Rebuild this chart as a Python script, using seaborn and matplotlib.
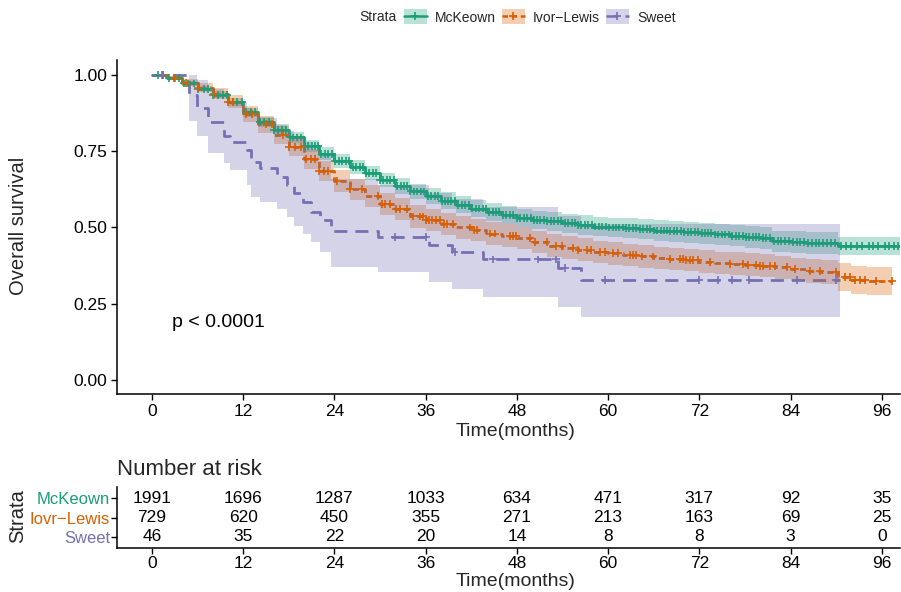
import numpy as np
import pandas as pd
import matplotlib
matplotlib.use("Agg")
import matplotlib.pyplot as plt
from matplotlib.patches import Patch
from matplotlib.lines import Line2D
import seaborn as sns

sns.set_theme(style="white")
plt.rcParams['font.family'] = ['Liberation Sans', 'DejaVu Sans']

# ---------------- data ----------------
strata = ["McKeown", "Ivor\u2212Lewis", "Sweet"]
table_labels = ["McKeown", "Iovr\u2212Lewis", "Sweet"]
colors = ["#1B9E77", "#D95F02", "#7570B3"]

# McKeown
g_time = [0, 2, 4, 6, 8, 10, 12, 14, 16, 18, 20, 22, 24, 26, 28, 30, 32, 34, 36, 38, 40,
          42, 44, 46, 48, 50, 52, 54, 56, 58, 60, 62, 64, 66, 68, 70, 72, 74, 76, 78, 80,
          81.5, 84, 86, 88, 90.2, 92, 94, 96, 98.4]
g_surv = [1.0, 0.99, 0.972, 0.955, 0.935, 0.91, 0.878, 0.846, 0.82, 0.795, 0.767, 0.742,
          0.718, 0.698, 0.678, 0.655, 0.636, 0.618, 0.603, 0.588, 0.574, 0.562, 0.55, 0.54,
          0.532, 0.525, 0.52, 0.514, 0.508, 0.503, 0.5, 0.498, 0.494, 0.49, 0.487, 0.484,
          0.481, 0.477, 0.473, 0.47, 0.466, 0.455, 0.452, 0.45, 0.449, 0.44, 0.44, 0.44,
          0.44, 0.44]
g_lower = [1.0, 0.985, 0.965, 0.946, 0.924, 0.897, 0.863, 0.829, 0.802, 0.776, 0.747, 0.721,
           0.696, 0.675, 0.654, 0.631, 0.611, 0.592, 0.577, 0.561, 0.546, 0.534, 0.521, 0.511,
           0.502, 0.495, 0.489, 0.483, 0.476, 0.471, 0.468, 0.465, 0.461, 0.457, 0.453, 0.45,
           0.446, 0.442, 0.438, 0.434, 0.43, 0.42, 0.416, 0.414, 0.413, 0.41, 0.41, 0.41,
           0.41, 0.41]
g_upper = [1.0, 0.995, 0.979, 0.964, 0.946, 0.923, 0.893, 0.863, 0.838, 0.814, 0.787, 0.763,
           0.74, 0.721, 0.702, 0.679, 0.661, 0.644, 0.629, 0.615, 0.602, 0.59, 0.579, 0.569,
           0.562, 0.555, 0.551, 0.545, 0.54, 0.535, 0.532, 0.531, 0.527, 0.523, 0.521, 0.518,
           0.516, 0.512, 0.508, 0.506, 0.502, 0.49, 0.488, 0.486, 0.485, 0.468, 0.468, 0.468,
           0.468, 0.468]
g_censor = [0.8, 1.5, 2.2, 2.9, 3.5, 4.2, 4.8, 5.5, 6.1, 6.8, 7.4, 8.0, 8.7, 9.3, 9.9, 10.6,
            11.2, 11.8, 12.4, 13.0, 13.6, 14.2, 14.8, 15.4, 16.0, 16.6, 17.1, 17.6, 18.1, 18.6,
            19.1, 19.6, 20.1, 20.5, 21.0, 21.4, 21.9, 22.3, 22.8, 23.2, 23.7, 24.1, 24.6, 25.0,
            25.5, 25.9, 26.4, 26.8, 27.3, 27.7, 28.2, 28.6, 29.1, 29.5, 30.0, 30.4, 30.9, 31.3,
            31.8, 32.2, 32.7, 33.1, 33.6, 34.0, 34.5, 34.9, 35.4, 35.8, 36.3, 36.7, 37.2, 37.6,
            38.1, 38.5, 39.0, 39.4, 39.9, 40.3, 40.8, 41.2, 41.7, 42.1, 42.6, 43.0, 43.5, 43.9,
            44.4, 44.8, 45.3, 45.7, 46.2, 46.6, 47.1, 47.5, 48.0, 48.4, 48.9, 49.3, 49.8, 50.2,
            50.7, 51.1, 51.6, 52.0, 52.5, 52.9, 53.4, 53.8, 54.3, 54.7, 55.2, 55.6, 56.1, 56.5,
            57.0, 57.4, 57.9, 58.3, 58.8, 59.2, 59.7, 60.1, 60.6, 61.0, 61.5, 61.9, 62.4, 62.8,
            63.3, 63.7, 64.2, 64.6, 65.1, 65.5, 66.0, 66.4, 66.9, 67.3, 67.8, 68.2, 68.7, 69.1,
            69.6, 70.0, 70.5, 70.9, 71.4, 71.8, 72.3, 72.7, 73.2, 73.6, 74.1, 74.5, 75.0, 75.4,
            75.9, 76.3, 76.8, 77.2, 77.7, 78.1, 78.6, 79.0, 79.5, 79.9, 80.4, 80.8, 81.3, 81.8,
            82.3, 82.8, 83.3, 83.8, 84.3, 84.8, 85.3, 85.8, 86.3, 86.8, 87.3, 87.8, 88.3, 88.8,
            89.3, 89.8, 90.6, 91.3, 91.9, 92.8, 93.4, 94.3, 94.9, 95.5, 96.4, 97.0, 97.6, 98.2]

# Ivor-Lewis
o_time = [0, 2, 4, 6, 8, 10, 12, 14, 16, 18, 20, 22, 24, 26, 28, 30, 32, 34, 36, 38, 40,
          42, 44, 46, 48, 50, 52, 54, 56, 58, 60, 62, 64, 66, 68, 70, 72, 74, 76, 78, 80,
          82, 84, 86, 88, 90.2, 92, 94, 97.4]
o_surv = [1.0, 0.99, 0.975, 0.958, 0.938, 0.912, 0.872, 0.838, 0.803, 0.765, 0.725, 0.685,
          0.652, 0.625, 0.603, 0.578, 0.56, 0.536, 0.525, 0.512, 0.5, 0.492, 0.48, 0.473,
          0.465, 0.452, 0.44, 0.434, 0.427, 0.42, 0.415, 0.41, 0.405, 0.4, 0.397, 0.393,
          0.388, 0.384, 0.381, 0.378, 0.375, 0.369, 0.363, 0.358, 0.355, 0.338, 0.328,
          0.325, 0.325]
o_lower = [1.0, 0.983, 0.963, 0.943, 0.92, 0.891, 0.847, 0.81, 0.773, 0.733, 0.692, 0.651,
           0.617, 0.59, 0.567, 0.542, 0.523, 0.499, 0.488, 0.475, 0.463, 0.455, 0.443, 0.436,
           0.428, 0.415, 0.403, 0.397, 0.39, 0.383, 0.378, 0.373, 0.368, 0.363, 0.36, 0.356,
           0.351, 0.347, 0.343, 0.34, 0.337, 0.331, 0.325, 0.319, 0.316, 0.293, 0.283, 0.28,
           0.28]
o_upper = [1.0, 0.997, 0.987, 0.973, 0.956, 0.933, 0.897, 0.866, 0.833, 0.797, 0.758, 0.719,
           0.687, 0.66, 0.639, 0.614, 0.597, 0.573, 0.562, 0.549, 0.537, 0.529, 0.517, 0.51,
           0.502, 0.489, 0.477, 0.471, 0.464, 0.457, 0.452, 0.447, 0.442, 0.437, 0.434, 0.43,
           0.425, 0.421, 0.419, 0.416, 0.413, 0.407, 0.401, 0.397, 0.394, 0.383, 0.373, 0.37,
           0.37]
o_censor = [1.5, 3.0, 4.5, 6.0, 8.2, 10.0, 10.6, 12.4, 13.2, 15.0, 15.8, 17.2, 18.0, 18.8,
            19.6, 20.3, 20.9, 21.5, 22.0, 22.6, 23.2, 24.4, 26.0, 27.6, 29.7, 30.2, 30.6, 31.3,
            32.1, 32.6, 33.6, 34.4, 35.2, 35.6, 36.1, 36.5, 36.9, 37.4, 37.9, 38.4, 38.8, 39.6,
            41.8, 42.3, 42.7, 44.5, 45.1, 47.1, 47.5, 47.9, 49.7, 50.4, 51.9, 53.2, 53.9, 55.4,
            56.1, 57.2, 57.8, 58.9, 59.6, 60.7, 61.3, 62.9, 63.3, 63.7, 64.4, 65.9, 68.1, 69.4,
            69.8, 70.3, 70.8, 71.2, 71.8, 73.4, 76.0, 77.8, 78.4, 79.5, 80.0, 80.4, 81.3, 81.9,
            83.5, 84.6, 86.5, 87.9, 90.0, 91.1, 91.8, 92.5, 93.1, 93.8, 95.3, 97.3]

# Sweet
s_time = [0, 4.9, 5.9, 7.4, 9.5, 10.2, 12.5, 13.0, 14.2, 16.4, 17.8, 18.7, 19.9, 20.9,
          22.1, 23.5, 29.7, 36.4, 39.5, 43.6, 53.4, 56.5, 90.5]
s_surv = [1.0, 0.935, 0.89, 0.846, 0.80, 0.78, 0.755, 0.715, 0.695, 0.667, 0.64, 0.613,
          0.585, 0.55, 0.525, 0.489, 0.469, 0.443, 0.42, 0.395, 0.367, 0.328, 0.328]
s_lower = [1.0, 0.85, 0.80, 0.745, 0.71, 0.69, 0.64, 0.60, 0.585, 0.56, 0.535, 0.505,
           0.48, 0.452, 0.42, 0.37, 0.355, 0.32, 0.297, 0.272, 0.24, 0.207, 0.207]
s_upper = [1.0, 1.0, 0.984, 0.955, 0.925, 0.91, 0.89, 0.87, 0.86, 0.835, 0.815, 0.80,
           0.78, 0.755, 0.735, 0.66, 0.64, 0.613, 0.593, 0.567, 0.538, 0.51, 0.51]
s_censor = [1.3, 32.0, 36.0, 39.8, 44.9, 50.8, 53.2, 54.3, 59.6, 72.0, 74.4, 76.3, 78.6,
            84.8, 90.0]

risk_times = [0, 12, 24, 36, 48, 60, 72, 84, 96]
risk_mckeown = [1991, 1696, 1287, 1033, 634, 471, 317, 92, 35]
risk_ivor = [729, 620, 450, 355, 271, 213, 163, 69, 25]
risk_sweet = [46, 35, 22, 20, 14, 8, 8, 3, 0]

y_ticks = [0.0, 0.25, 0.50, 0.75, 1.00]
pval_text = "p < 0.0001"

# ---------------- build frames ----------------
curves = [(g_time, g_surv, g_lower, g_upper, g_censor),
          (o_time, o_surv, o_lower, o_upper, o_censor),
          (s_time, s_surv, s_lower, s_upper, s_censor)]

line_rows, cens_rows = [], []
for name, (t, s, lo, up, cz) in zip(strata, curves):
    t_arr, s_arr = np.asarray(t), np.asarray(s)
    for ti, si in zip(t, s):
        line_rows.append((name, ti, si))
    idx = np.searchsorted(t_arr, np.asarray(cz), side='right') - 1
    for ci, si in zip(cz, s_arr[idx]):
        cens_rows.append((name, ci, si))
line_df = pd.DataFrame(line_rows, columns=["strata", "time", "surv"])
cens_df = pd.DataFrame(cens_rows, columns=["strata", "time", "surv"])

palette = dict(zip(strata, colors))
dash_map = {strata[0]: "", strata[1]: (2.2, 1.45), strata[2]: (4.7, 2.9)}

# ---------------- figure ----------------
W, H = 901, 592
fig = plt.figure(figsize=(W / 100, H / 100), dpi=100)

def fx(px):
    return px / W

def fy(py):
    return 1 - py / H

ax = fig.add_axes([fx(117), fy(394), (900 - 117) / W, (394 - 60) / H])
ax_t = fig.add_axes([fx(117), fy(548), (900 - 117) / W, (548 - 487) / H])

xlim = (-4.6, 98.4)

sns.lineplot(data=line_df, x="time", y="surv", hue="strata", style="strata",
             palette=palette, dashes=dash_map, hue_order=strata, style_order=strata,
             estimator=None, drawstyle="steps-post", linewidth=2.0, legend=False,
             ax=ax, zorder=2)

for name, c, (t, s, lo, up, cz) in zip(strata, colors, curves):
    ax.fill_between(t, lo, up, step="post", color=c, alpha=0.3, linewidth=0, zorder=3)

sns.scatterplot(data=cens_df, x="time", y="surv", hue="strata", palette=palette,
                hue_order=strata, marker="+", s=32, linewidth=1.2, legend=False,
                ax=ax, zorder=4)

ax.set_xlim(*xlim)
ax.set_ylim(-0.046, 1.049)
ax.set_xticks(risk_times)
ax.set_xticklabels([str(v) for v in risk_times])
ax.set_yticks(y_ticks)
ax.set_yticklabels([f"{v:.2f}" for v in y_ticks])
ax.set_xlabel("")
ax.set_ylabel("")
for sp in ["top", "right"]:
    ax.spines[sp].set_visible(False)
for sp in ["left", "bottom"]:
    ax.spines[sp].set_color("black")
    ax.spines[sp].set_linewidth(1.1)
ax.tick_params(axis="both", direction="out", length=4, width=1.0, color="black",
               labelcolor="black", labelsize=12.5, pad=3, left=True, bottom=True)
ax.text(2.6, 0.19, pval_text, ha="left", va="center", fontsize=14, color="black")

# legend
handles = []
for name, c in zip(strata, colors):
    ls = "-" if dash_map[name] == "" else (0, dash_map[name])
    handles.append((Patch(facecolor=c, alpha=0.3, edgecolor="none"),
                    Line2D([], [], color=c, lw=1.8, ls=ls, marker="+",
                           markersize=6, markeredgewidth=1.2)))
fig.legend(handles=handles, labels=strata, ncol=3, loc="center left",
           bbox_to_anchor=(fx(404), fy(17)), frameon=False, fontsize=10,
           handlelength=1.65, handleheight=1.25, handletextpad=0.6,
           columnspacing=0.4, borderpad=0, borderaxespad=0)
fig.text(fx(359), fy(17), "Strata", ha="left", va="center", fontsize=10)

# labels
fig.text(fx(19), fy(226), "Overall survival", rotation=90, ha="center", va="center",
         fontsize=14.5)
fig.text(fx(516), fy(432), "Time(months)", ha="center", va="center", fontsize=14)

# ---------------- risk table ----------------
rows = [3, 2, 1]
risk_rows = [risk_mckeown, risk_ivor, risk_sweet]
for r, vals in zip(rows, risk_rows):
    for t, v in zip(risk_times, vals):
        ax_t.text(t, r, str(v), ha="center", va="center", fontsize=12.5, color="black")
ax_t.set_xlim(*xlim)
ax_t.set_ylim(0.4, 3.6)
ax_t.set_xticks(risk_times)
ax_t.set_xticklabels([str(v) for v in risk_times])
ax_t.set_yticks(rows)
ax_t.set_yticklabels(table_labels)
for lbl, c in zip(ax_t.get_yticklabels(), colors):
    lbl.set_color(c)
for sp in ["top", "right"]:
    ax_t.spines[sp].set_visible(False)
for sp in ["left", "bottom"]:
    ax_t.spines[sp].set_color("black")
    ax_t.spines[sp].set_linewidth(1.1)
ax_t.tick_params(axis="x", direction="out", length=4, width=1.0, color="black",
                 labelcolor="black", labelsize=12.5, pad=2, bottom=True)
ax_t.tick_params(axis="y", direction="out", length=4, width=1.0, color="black",
                 labelsize=12, pad=1, left=True)
fig.text(fx(117), fy(475), "Number at risk", ha="left", va="baseline", fontsize=16)
fig.text(fx(18), fy(516), "Strata", rotation=90, ha="center", va="center", fontsize=14.5)
fig.text(fx(516), fy(581), "Time(months)", ha="center", va="center", fontsize=14)

fig.savefig("out.png", dpi=100)
